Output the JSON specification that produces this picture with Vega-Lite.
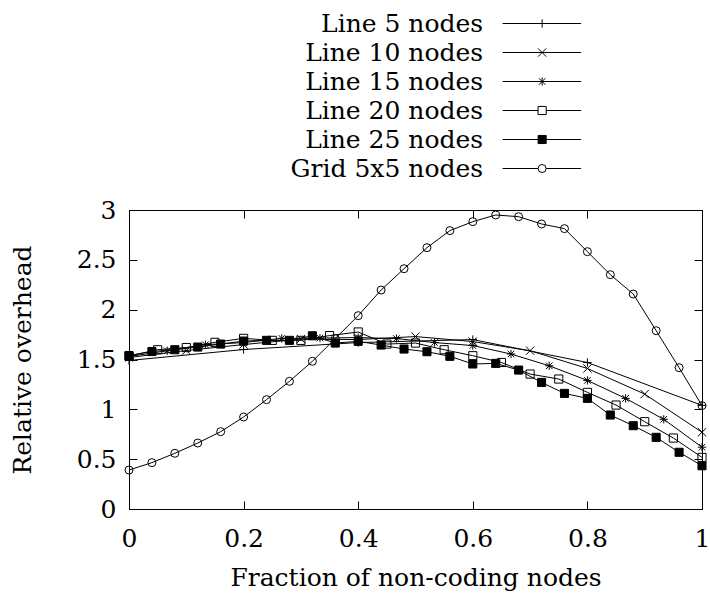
{
  "$schema": "https://vega.github.io/schema/vega-lite/v6.json",
  "padding": {"left": 10, "top": 9, "right": 5, "bottom": 5},
  "background": "white",
  "datasets": {
    "legend": [
      {"series": "Line 5 nodes"},
      {"series": "Line 10 nodes"},
      {"series": "Line 15 nodes"},
      {"series": "Line 20 nodes"},
      {"series": "Line 25 nodes"},
      {"series": "Grid 5x5 nodes"}
    ],
    "pts": [
      {"series": "Line 5 nodes", "x": 0, "y": 1.49},
      {"series": "Line 5 nodes", "x": 0.2, "y": 1.6},
      {"series": "Line 5 nodes", "x": 0.4, "y": 1.67},
      {"series": "Line 5 nodes", "x": 0.6, "y": 1.7},
      {"series": "Line 5 nodes", "x": 0.8, "y": 1.47},
      {"series": "Line 5 nodes", "x": 1, "y": 1.04},
      {"series": "Line 10 nodes", "x": 0, "y": 1.52},
      {"series": "Line 10 nodes", "x": 0.1, "y": 1.59},
      {"series": "Line 10 nodes", "x": 0.2, "y": 1.65},
      {"series": "Line 10 nodes", "x": 0.3, "y": 1.705},
      {"series": "Line 10 nodes", "x": 0.4, "y": 1.7},
      {"series": "Line 10 nodes", "x": 0.5, "y": 1.73},
      {"series": "Line 10 nodes", "x": 0.6, "y": 1.68},
      {"series": "Line 10 nodes", "x": 0.7, "y": 1.588},
      {"series": "Line 10 nodes", "x": 0.8, "y": 1.41},
      {"series": "Line 10 nodes", "x": 0.9, "y": 1.153},
      {"series": "Line 10 nodes", "x": 1, "y": 0.77},
      {"series": "Line 15 nodes", "x": 0, "y": 1.53},
      {"series": "Line 15 nodes", "x": 0.0667, "y": 1.588},
      {"series": "Line 15 nodes", "x": 0.1333, "y": 1.648},
      {"series": "Line 15 nodes", "x": 0.2, "y": 1.67},
      {"series": "Line 15 nodes", "x": 0.2667, "y": 1.712},
      {"series": "Line 15 nodes", "x": 0.3333, "y": 1.715},
      {"series": "Line 15 nodes", "x": 0.4, "y": 1.72},
      {"series": "Line 15 nodes", "x": 0.4667, "y": 1.71},
      {"series": "Line 15 nodes", "x": 0.5333, "y": 1.67},
      {"series": "Line 15 nodes", "x": 0.6, "y": 1.64},
      {"series": "Line 15 nodes", "x": 0.6667, "y": 1.555},
      {"series": "Line 15 nodes", "x": 0.7333, "y": 1.437},
      {"series": "Line 15 nodes", "x": 0.8, "y": 1.29},
      {"series": "Line 15 nodes", "x": 0.8667, "y": 1.11},
      {"series": "Line 15 nodes", "x": 0.9333, "y": 0.9},
      {"series": "Line 15 nodes", "x": 1, "y": 0.62},
      {"series": "Line 20 nodes", "x": 0, "y": 1.535},
      {"series": "Line 20 nodes", "x": 0.05, "y": 1.598},
      {"series": "Line 20 nodes", "x": 0.1, "y": 1.62},
      {"series": "Line 20 nodes", "x": 0.15, "y": 1.672},
      {"series": "Line 20 nodes", "x": 0.2, "y": 1.712},
      {"series": "Line 20 nodes", "x": 0.25, "y": 1.692},
      {"series": "Line 20 nodes", "x": 0.3, "y": 1.692},
      {"series": "Line 20 nodes", "x": 0.35, "y": 1.74},
      {"series": "Line 20 nodes", "x": 0.4, "y": 1.776},
      {"series": "Line 20 nodes", "x": 0.45, "y": 1.655},
      {"series": "Line 20 nodes", "x": 0.5, "y": 1.665},
      {"series": "Line 20 nodes", "x": 0.55, "y": 1.598},
      {"series": "Line 20 nodes", "x": 0.6, "y": 1.538},
      {"series": "Line 20 nodes", "x": 0.65, "y": 1.47},
      {"series": "Line 20 nodes", "x": 0.7, "y": 1.354},
      {"series": "Line 20 nodes", "x": 0.75, "y": 1.304},
      {"series": "Line 20 nodes", "x": 0.8, "y": 1.17},
      {"series": "Line 20 nodes", "x": 0.85, "y": 1.043},
      {"series": "Line 20 nodes", "x": 0.9, "y": 0.876},
      {"series": "Line 20 nodes", "x": 0.95, "y": 0.712},
      {"series": "Line 20 nodes", "x": 1, "y": 0.518},
      {"series": "Line 25 nodes", "x": 0, "y": 1.54},
      {"series": "Line 25 nodes", "x": 0.04, "y": 1.58},
      {"series": "Line 25 nodes", "x": 0.08, "y": 1.598},
      {"series": "Line 25 nodes", "x": 0.12, "y": 1.625},
      {"series": "Line 25 nodes", "x": 0.16, "y": 1.655},
      {"series": "Line 25 nodes", "x": 0.2, "y": 1.685},
      {"series": "Line 25 nodes", "x": 0.24, "y": 1.692},
      {"series": "Line 25 nodes", "x": 0.28, "y": 1.692},
      {"series": "Line 25 nodes", "x": 0.32, "y": 1.738},
      {"series": "Line 25 nodes", "x": 0.36, "y": 1.665},
      {"series": "Line 25 nodes", "x": 0.4, "y": 1.682},
      {"series": "Line 25 nodes", "x": 0.44, "y": 1.645},
      {"series": "Line 25 nodes", "x": 0.48, "y": 1.605},
      {"series": "Line 25 nodes", "x": 0.52, "y": 1.578},
      {"series": "Line 25 nodes", "x": 0.56, "y": 1.532},
      {"series": "Line 25 nodes", "x": 0.6, "y": 1.455},
      {"series": "Line 25 nodes", "x": 0.64, "y": 1.461},
      {"series": "Line 25 nodes", "x": 0.68, "y": 1.394},
      {"series": "Line 25 nodes", "x": 0.72, "y": 1.27},
      {"series": "Line 25 nodes", "x": 0.76, "y": 1.16},
      {"series": "Line 25 nodes", "x": 0.8, "y": 1.11},
      {"series": "Line 25 nodes", "x": 0.84, "y": 0.943},
      {"series": "Line 25 nodes", "x": 0.88, "y": 0.836},
      {"series": "Line 25 nodes", "x": 0.92, "y": 0.719},
      {"series": "Line 25 nodes", "x": 0.96, "y": 0.569},
      {"series": "Line 25 nodes", "x": 1, "y": 0.434},
      {"series": "Grid 5x5 nodes", "x": 0, "y": 0.391},
      {"series": "Grid 5x5 nodes", "x": 0.04, "y": 0.465},
      {"series": "Grid 5x5 nodes", "x": 0.08, "y": 0.559},
      {"series": "Grid 5x5 nodes", "x": 0.12, "y": 0.662},
      {"series": "Grid 5x5 nodes", "x": 0.16, "y": 0.776},
      {"series": "Grid 5x5 nodes", "x": 0.2, "y": 0.923},
      {"series": "Grid 5x5 nodes", "x": 0.24, "y": 1.097},
      {"series": "Grid 5x5 nodes", "x": 0.28, "y": 1.281},
      {"series": "Grid 5x5 nodes", "x": 0.32, "y": 1.482},
      {"series": "Grid 5x5 nodes", "x": 0.36, "y": 1.71},
      {"series": "Grid 5x5 nodes", "x": 0.4, "y": 1.94},
      {"series": "Grid 5x5 nodes", "x": 0.44, "y": 2.197},
      {"series": "Grid 5x5 nodes", "x": 0.48, "y": 2.411},
      {"series": "Grid 5x5 nodes", "x": 0.52, "y": 2.622},
      {"series": "Grid 5x5 nodes", "x": 0.56, "y": 2.793},
      {"series": "Grid 5x5 nodes", "x": 0.6, "y": 2.883},
      {"series": "Grid 5x5 nodes", "x": 0.64, "y": 2.95},
      {"series": "Grid 5x5 nodes", "x": 0.68, "y": 2.933},
      {"series": "Grid 5x5 nodes", "x": 0.72, "y": 2.86},
      {"series": "Grid 5x5 nodes", "x": 0.76, "y": 2.813},
      {"series": "Grid 5x5 nodes", "x": 0.8, "y": 2.582},
      {"series": "Grid 5x5 nodes", "x": 0.84, "y": 2.351},
      {"series": "Grid 5x5 nodes", "x": 0.88, "y": 2.157},
      {"series": "Grid 5x5 nodes", "x": 0.92, "y": 1.789},
      {"series": "Grid 5x5 nodes", "x": 0.96, "y": 1.418},
      {"series": "Grid 5x5 nodes", "x": 1, "y": 1.037}
    ]
  },
  "spacing": 15,
  "resolve": {"scale": {"x": "independent", "y": "independent", "shape": "independent", "fill": "independent", "size": "independent"}},
  "vconcat": [
    {
      "width": 573,
      "height": 174,
      "data": {"name": "legend"},
      "layer": [
        {
          "mark": {"type": "text", "align": "right", "baseline": "middle", "font": "DejaVu Serif", "fontSize": 25, "color": "black"},
          "encoding": {
            "x": {"datum": 0.618, "type": "quantitative", "scale": {"domain": [0, 1], "nice": false}, "axis": null},
            "y": {"field": "series", "type": "nominal", "sort": null, "axis": null, "scale": {"type": "point", "padding": 0.5}},
            "text": {"field": "series"}
          }
        },
        {
          "mark": {"type": "rule", "stroke": "black", "strokeWidth": 1},
          "encoding": {
            "x": {"datum": 0.652, "type": "quantitative"},
            "x2": {"datum": 0.789},
            "y": {"field": "series", "type": "nominal", "sort": null}
          }
        },
        {
          "mark": {"type": "point", "stroke": "black", "strokeWidth": 1, "opacity": 1},
          "encoding": {
            "x": {"datum": 0.721, "type": "quantitative"},
            "y": {"field": "series", "type": "nominal", "sort": null},
            "shape": {"field": "series", "type": "nominal", "legend": null,
              "scale": {"domain": ["Line 5 nodes", "Line 10 nodes", "Line 15 nodes", "Line 20 nodes", "Line 25 nodes", "Grid 5x5 nodes"],
                "range": ["M-1,0L1,0M0,-1L0,1", "M-1,-1L1,1M-1,1L1,-1", "M-1,0L1,0M0,-1L0,1M-0.8,-0.8L0.8,0.8M-0.8,0.8L0.8,-0.8", "square", "square", "circle"]}},
            "fill": {"field": "series", "type": "nominal", "legend": null,
              "scale": {"domain": ["Line 5 nodes", "Line 10 nodes", "Line 15 nodes", "Line 20 nodes", "Line 25 nodes", "Grid 5x5 nodes"],
                "range": ["transparent", "transparent", "transparent", "white", "black", "white"]}},
            "size": {"field": "series", "type": "nominal", "legend": null,
              "scale": {"domain": ["Line 5 nodes", "Line 10 nodes", "Line 15 nodes", "Line 20 nodes", "Line 25 nodes", "Grid 5x5 nodes"],
                "range": [70, 64, 70, 50, 50, 75]}}
          }
        }
      ]
    },
    {
      "width": 573,
      "height": 299,
      "data": {"name": "pts"},
      "resolve": {"axis": {"x": "independent", "y": "independent"}},
      "layer": [
        {
          "mark": {"type": "line", "stroke": "black", "strokeWidth": 1},
          "encoding": {
            "x": {"field": "x", "type": "quantitative", "scale": {"domain": [0, 1], "nice": false},
              "axis": {"title": "Fraction of non-coding nodes", "values": [0, 0.2, 0.4, 0.6, 0.8, 1], "format": "~g", "tickSize": -8, "labelPadding": 25, "titlePadding": 14, "labelFlush": false}},
            "y": {"field": "y", "type": "quantitative", "scale": {"domain": [0, 3], "nice": false},
              "axis": {"title": "Relative overhead", "values": [0, 0.5, 1, 1.5, 2, 2.5, 3], "format": "~g", "tickSize": -8, "labelPadding": 21, "titlePadding": 41, "labelFlush": false}},
            "detail": {"field": "series"},
            "order": {"field": "x"}
          }
        },
        {
          "mark": {"type": "point", "stroke": "black", "strokeWidth": 1, "opacity": 1},
          "encoding": {
            "x": {"field": "x", "type": "quantitative",
              "axis": {"orient": "top", "labels": false, "title": null, "values": [0, 0.2, 0.4, 0.6, 0.8, 1], "tickSize": -8}},
            "y": {"field": "y", "type": "quantitative",
              "axis": {"orient": "right", "labels": false, "title": null, "values": [0, 0.5, 1, 1.5, 2, 2.5, 3], "tickSize": -8}},
            "shape": {"field": "series", "type": "nominal", "legend": null,
              "scale": {"domain": ["Line 5 nodes", "Line 10 nodes", "Line 15 nodes", "Line 20 nodes", "Line 25 nodes", "Grid 5x5 nodes"],
                "range": ["M-1,0L1,0M0,-1L0,1", "M-1,-1L1,1M-1,1L1,-1", "M-1,0L1,0M0,-1L0,1M-0.8,-0.8L0.8,0.8M-0.8,0.8L0.8,-0.8", "square", "square", "circle"]}},
            "fill": {"field": "series", "type": "nominal", "legend": null,
              "scale": {"domain": ["Line 5 nodes", "Line 10 nodes", "Line 15 nodes", "Line 20 nodes", "Line 25 nodes", "Grid 5x5 nodes"],
                "range": ["transparent", "transparent", "transparent", "transparent", "black", "transparent"]}},
            "size": {"field": "series", "type": "nominal", "legend": null,
              "scale": {"domain": ["Line 5 nodes", "Line 10 nodes", "Line 15 nodes", "Line 20 nodes", "Line 25 nodes", "Grid 5x5 nodes"],
                "range": [70, 64, 70, 50, 50, 75]}}
          }
        }
      ]
    }
  ],
  "config": {
    "font": "DejaVu Serif",
    "view": {"stroke": null},
    "axis": {
      "grid": false,
      "labelFont": "DejaVu Serif",
      "titleFont": "DejaVu Serif",
      "labelFontSize": 25,
      "titleFontSize": 25,
      "titleFontWeight": "normal",
      "labelColor": "black",
      "titleColor": "black",
      "domainColor": "black",
      "tickColor": "black",
      "domainWidth": 1,
      "tickWidth": 1
    }
  }
}
